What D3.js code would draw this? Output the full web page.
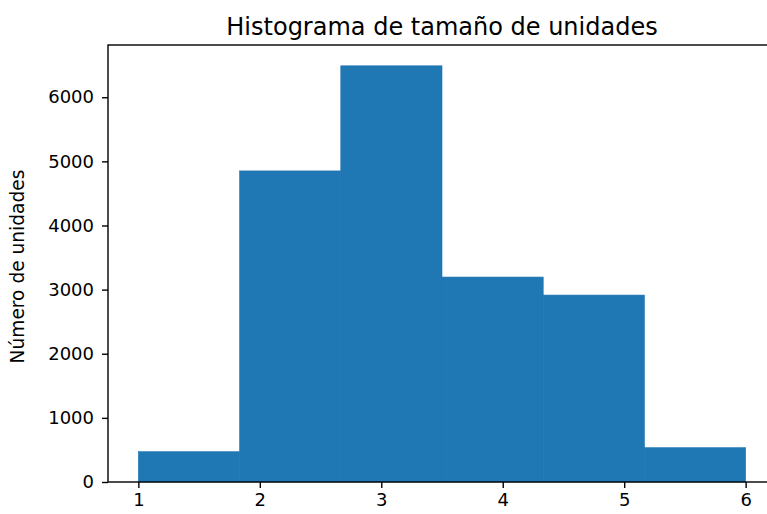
<!DOCTYPE html>
<html>
<head>
<meta charset="utf-8">
<script src="https://cdn.jsdelivr.net/npm/d3@7"></script>
<style>
body { margin: 0; background: #fff; }
svg { display: block; }
text { font-family: "DejaVu Sans", sans-serif; fill: #000; }
</style>
</head>
<body>
<div id="chart"></div>
<script>
var width = 767;
var height = 514;

// histogram data (bin edges and counts)
var binEdges = [1, 1 + 5/6, 1 + 10/6, 3.5, 1 + 20/6, 1 + 25/6, 6];
var counts = [473, 4851, 6490, 3196, 2915, 535];
var xTicks = [1, 2, 3, 4, 5, 6];
var yTicks = [0, 1000, 2000, 3000, 4000, 5000, 6000];

// plot area (window.top is reserved, so use other names)
var plotL = 108, plotR = 776, plotT = 45, plotB = 482;

var svg = d3.select("#chart")
    .append("svg")
    .attr("width", width)
    .attr("height", height);

var x = d3.scaleLinear()
    .domain([0.75, 6.25])
    .range([plotL, plotR]);

var y = d3.scaleLinear()
    .domain([0, d3.max(counts) * 1.05])
    .range([plotB, plotT]);

// bars
svg.selectAll("rect.bar")
    .data(counts)
    .enter()
    .append("rect")
    .attr("class", "bar")
    .attr("x", function(d, i) { return x(binEdges[i]); })
    .attr("width", function(d, i) { return x(binEdges[i + 1]) - x(binEdges[i]); })
    .attr("y", function(d) { return y(d); })
    .attr("height", function(d) { return y(0) - y(d); })
    .attr("fill", "#1f77b4")
    .attr("stroke", "#1f77b4")
    .attr("stroke-width", 0.6);

// axes
var xAxis = svg.append("g")
    .attr("transform", "translate(0," + plotB + ")")
    .call(d3.axisBottom(x).tickValues(xTicks).tickFormat(d3.format("d")).tickSize(6).tickPadding(5));

var yAxis = svg.append("g")
    .attr("transform", "translate(" + plotL + ",0)")
    .call(d3.axisLeft(y).tickValues(yTicks).tickFormat(d3.format("d")).tickSize(6).tickPadding(8));

[xAxis, yAxis].forEach(function(g) {
    g.select(".domain").remove();
    g.selectAll(".tick line").attr("stroke", "#000").attr("stroke-width", 1.4);
    g.selectAll(".tick text")
        .style("font-family", "DejaVu Sans, sans-serif")
        .style("font-size", "18px")
        .attr("fill", "#000");
});

// frame (spines)
svg.append("rect")
    .attr("x", plotL)
    .attr("y", plotT)
    .attr("width", plotR - plotL)
    .attr("height", plotB - plotT)
    .attr("fill", "none")
    .attr("stroke", "#000")
    .attr("stroke-width", 1.4);

// title
svg.append("text")
    .text("Histograma de tamaño de unidades")
    .attr("x", (plotL + plotR) / 2)
    .attr("y", 35)
    .attr("text-anchor", "middle")
    .style("font-size", "24px");

// y label
svg.append("text")
    .text("Número de unidades")
    .attr("transform", "translate(24," + ((plotT + plotB) / 2 + 3) + ") rotate(-90)")
    .attr("text-anchor", "middle")
    .style("font-size", "18.6px");
</script>
</body>
</html>
